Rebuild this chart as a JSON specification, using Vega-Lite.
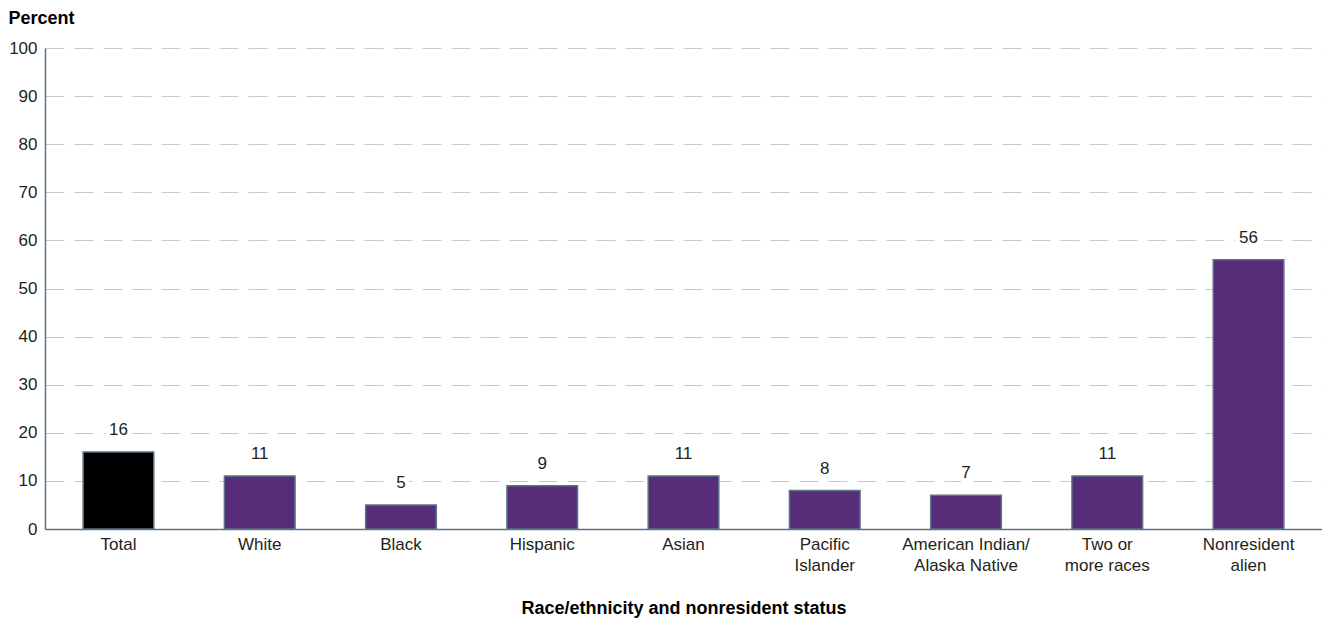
{
  "$schema": "https://vega.github.io/schema/vega-lite/v6.json",
  "width": 1277,
  "height": 481,
  "autosize": {"type": "none"},
  "padding": {"left": 45, "top": 48, "right": 0, "bottom": 92},
  "background": "white",
  "config": {
    "font": "Liberation Sans",
    "view": {"stroke": null}
  },
  "data": {
    "values": [
      {"group": "Total", "value": 16, "kind": "total"},
      {"group": "White", "value": 11, "kind": "race"},
      {"group": "Black", "value": 5, "kind": "race"},
      {"group": "Hispanic", "value": 9, "kind": "race"},
      {"group": "Asian", "value": 11, "kind": "race"},
      {"group": "Pacific|Islander", "value": 8, "kind": "race"},
      {"group": "American Indian/|Alaska Native", "value": 7, "kind": "race"},
      {"group": "Two or|more races", "value": 11, "kind": "race"},
      {"group": "Nonresident|alien", "value": 56, "kind": "race"}
    ]
  },
  "encoding": {
    "x": {
      "field": "group",
      "type": "nominal",
      "sort": null,
      "scale": {"paddingInner": 0.5, "paddingOuter": 0.27},
      "axis": {
        "title": "Race/ethnicity and nonresident status",
        "titleFont": "Liberation Sans",
        "titleFontSize": 18,
        "titleFontWeight": "bold",
        "titleColor": "#000000",
        "titlePadding": 26,
        "labelExpr": "split(datum.label, '|')",
        "labelAngle": 0,
        "labelFontSize": 17,
        "labelColor": "#231f20",
        "labelPadding": 7,
        "labelLineHeight": 21,
        "ticks": false,
        "domainColor": "#5b7385",
        "domainWidth": 1.5
      }
    },
    "y": {
      "field": "value",
      "type": "quantitative",
      "scale": {"domain": [0, 100]},
      "axis": {
        "title": "Percent",
        "titleAngle": 0,
        "titleAlign": "left",
        "titleBaseline": "alphabetic",
        "titleX": -37,
        "titleY": -25,
        "titleFontSize": 18,
        "titleFontWeight": "bold",
        "titleColor": "#000000",
        "values": [0, 10, 20, 30, 40, 50, 60, 70, 80, 90, 100],
        "labelFontSize": 17,
        "labelColor": "#231f20",
        "labelPadding": 8,
        "ticks": false,
        "domainColor": "#5b7385",
        "domainWidth": 1.5,
        "grid": true,
        "gridColor": "#c8c8c8",
        "gridDash": [19, 10],
        "gridWidth": 1
      }
    }
  },
  "layer": [
    {
      "mark": {"type": "bar", "stroke": "#5b7385", "strokeWidth": 1.5},
      "encoding": {
        "color": {
          "field": "kind",
          "type": "nominal",
          "scale": {"domain": ["total", "race"], "range": ["#000000", "#572d79"]},
          "legend": null
        }
      }
    },
    {
      "mark": {"type": "text", "baseline": "bottom", "dy": -13, "fontSize": 17, "stroke": "white", "strokeWidth": 9, "strokeJoin": "round"},
      "encoding": {"text": {"field": "value", "type": "quantitative"}}
    },
    {
      "mark": {"type": "text", "baseline": "bottom", "dy": -13, "fontSize": 17, "color": "#231f20"},
      "encoding": {"text": {"field": "value", "type": "quantitative"}}
    }
  ]
}
